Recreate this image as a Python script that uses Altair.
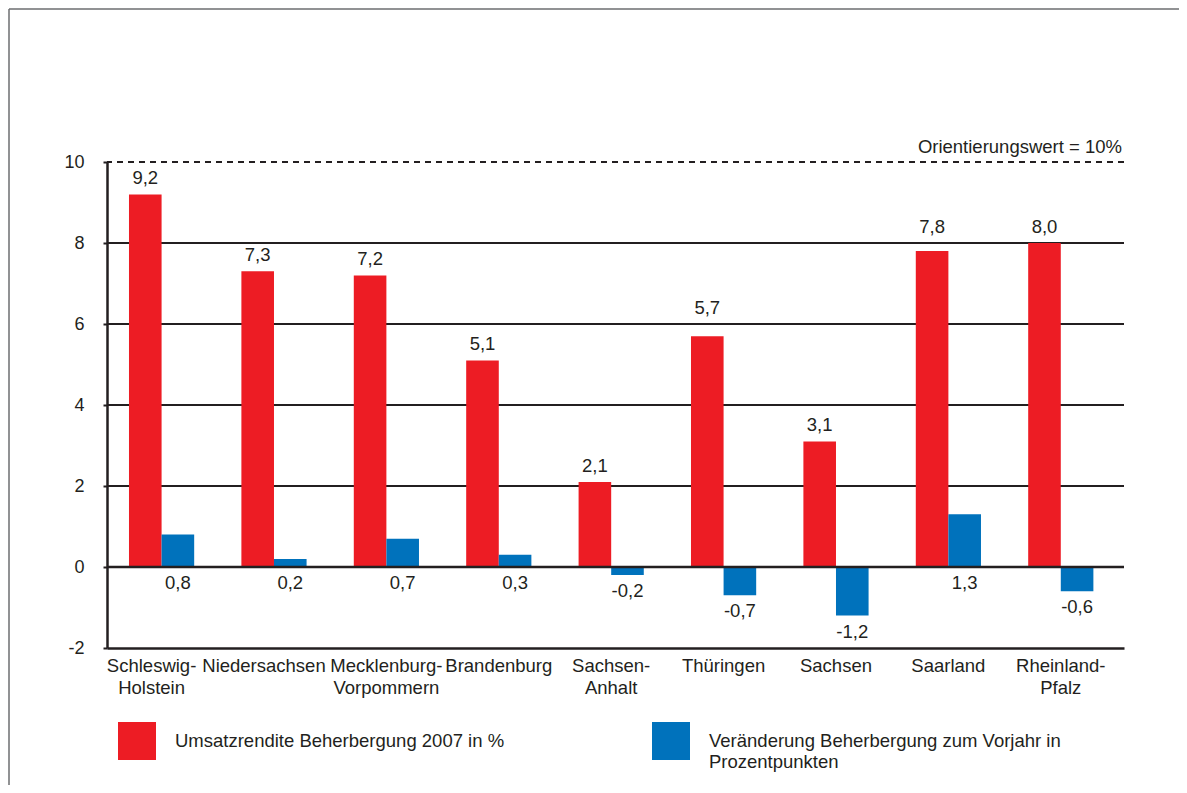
import math
import altair as alt
import pandas as pd

# ---- data ----
categories = ["Schleswig-|Holstein", "Niedersachsen", "Mecklenburg-|Vorpommern", "Brandenburg",
              "Sachsen-|Anhalt", "Thüringen", "Sachsen", "Saarland", "Rheinland-|Pfalz"]
umsatzrendite = [9.2, 7.3, 7.2, 5.1, 2.1, 5.7, 3.1, 7.8, 8.0]
veraenderung = [0.8, 0.2, 0.7, 0.3, -0.2, -0.7, -1.2, 1.3, -0.6]
series_names = ["Umsatzrendite Beherbergung 2007 in %",
                "Veränderung Beherbergung zum Vorjahr in Prozentpunkten"]
series_colors = ["#ED1C24", "#0072BC"]
grid_values = [2, 4, 6, 8]
zero_value = [0]
reference_value = [10]
reference_label = "Orientierungswert = 10%"
y_ticks = [-2, 0, 2, 4, 6, 8, 10]

FONT = "Liberation Sans, Arial, Helvetica, sans-serif"
FS = 18.5
W, H = 1017, 486
INK = "#231F20"


def fmt(v):
    return f"{v:.1f}".replace(".", ",")


def lift(v):
    # a value label just below a gridline is set on top of that gridline
    g = math.ceil(v / 2) * 2
    return g if g - v < 0.35 else v


rows = []
for c, r, b in zip(categories, umsatzrendite, veraenderung):
    rows.append(dict(cat=c, series=series_names[0], value=r, label=fmt(r), lpos=lift(r)))
    rows.append(dict(cat=c, series=series_names[1], value=b, label=fmt(b), lpos=min(b, 0)))
df = pd.DataFrame(rows)

x_axis = alt.Axis(title=None, labelExpr="split(datum.label, '|')", domain=True,
                  domainColor=INK, domainWidth=2.5, ticks=False, labelPadding=8,
                  labelFontSize=FS, labelFont=FONT, labelColor=INK, labelAngle=0,
                  labelLineHeight=22, labelLimit=300,
                  labelOffset={"condition": {"test": "datum.value == 'Niedersachsen' || "
                                                    "datum.value == 'Schleswig-|Holstein'",
                                             "value": -10},
                               "value": 0})
x_scale = alt.Scale(paddingInner=0.42, paddingOuter=0.234, align=0.418)
xo_enc = alt.XOffset("series:N", sort=series_names, scale=alt.Scale(paddingInner=0))
y_scale = alt.Scale(domain=[-2, 10], nice=False, zero=False)
y_axis = alt.Axis(title=None, values=y_ticks, grid=False, domainColor=INK,
                  domainWidth=2.5, tickColor=INK, tickWidth=2, tickSize=4,
                  labelPadding=19, labelFontSize=18, labelFont=FONT,
                  labelColor=INK, labelExpr="'' + datum.value")


def X(field="cat:N"):
    return alt.X(field, sort=categories, scale=x_scale, axis=x_axis)


def Y(field):
    return alt.Y(field, scale=y_scale, axis=y_axis)


grid = alt.Chart(pd.DataFrame({"value": grid_values})).mark_rule(
    color=INK, strokeWidth=2).encode(y=Y("value:Q"))

ref = alt.Chart(pd.DataFrame({"value": reference_value})).mark_rule(
    color=INK, strokeWidth=2, strokeDash=[6, 5]).encode(y=Y("value:Q"))

ref_text = alt.Chart(pd.DataFrame({"value": reference_value, "t": [reference_label]})).mark_text(
    align="right", baseline="middle", dy=-15, fontSize=FS, font=FONT, color=INK).encode(
    y=Y("value:Q"), x=alt.value(W - 2), text="t:N")

bars = alt.Chart(df).mark_bar().encode(
    x=X(), xOffset=xo_enc, y=Y("value:Q"),
    color=alt.Color("series:N",
                    scale=alt.Scale(domain=series_names, range=series_colors),
                    legend=alt.Legend(title=None, orient="none", legendX=11, legendY=560,
                                      direction="horizontal", columns=2, symbolType="square",
                                      symbolSize=1444, symbolStrokeWidth=0, symbolOpacity=1,
                                      labelFontSize=FS, labelFont=FONT, labelColor=INK,
                                      labelLimit=700, labelOffset=19, columnPadding=147,
                                      labelBaseline="middle",
                                      labelExpr="indexof(datum.label, 'Vorjahr') >= 0 ? "
                                                "['Veränderung Beherbergung zum Vorjahr in', "
                                                "'Prozentpunkten'] : [datum.label, '']")))

zero = alt.Chart(pd.DataFrame({"value": zero_value})).mark_rule(
    color=INK, strokeWidth=2.5).encode(y=Y("value:Q"))

red_text = alt.Chart(df).transform_filter(
    alt.datum.series == series_names[0]).mark_text(
    baseline="alphabetic", dy=-10, fontSize=FS, font=FONT, color=INK).encode(
    x=X(), xOffset=xo_enc, y=Y("lpos:Q"), text="label:N")

blue_text = alt.Chart(df).transform_filter(
    alt.datum.series == series_names[1]).mark_text(
    baseline="top", dy=7, fontSize=FS, font=FONT, color=INK).encode(
    x=X(), xOffset=xo_enc, y=Y("lpos:Q"), text="label:N")

frame_data = pd.DataFrame({"k": [0]})
frame_top = alt.Chart(frame_data).mark_rule(color="#6D6E71", strokeWidth=1.5).encode(
    x=alt.value(-98), x2=alt.value(1090), y=alt.value(-153))
frame_left = alt.Chart(frame_data).mark_rule(color="#6D6E71", strokeWidth=1.5).encode(
    x=alt.value(-98), y=alt.value(-153), y2=alt.value(640))

chart = alt.layer(grid, ref, ref_text, bars, zero, red_text, blue_text, frame_top, frame_left).properties(
    width=W, height=H,
    autosize=alt.AutoSizeParams(type="none"),
    padding={"left": 99, "top": 154, "right": 55, "bottom": 137},
    background="white",
).configure_view(stroke=None)

chart.save("out.html", embed_options={"renderer": "svg", "actions": False})
